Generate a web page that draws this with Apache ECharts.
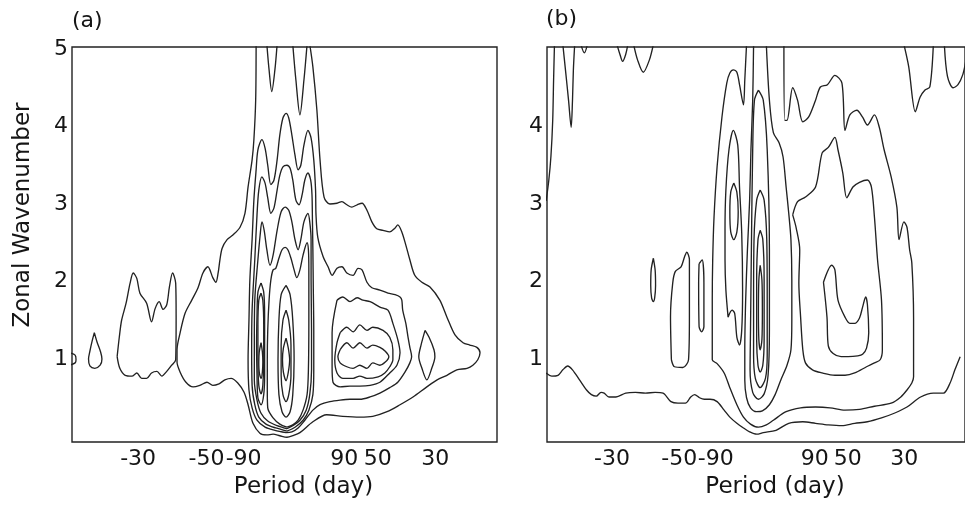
<!DOCTYPE html>
<html><head><meta charset="utf-8">
<script src="https://cdn.jsdelivr.net/npm/echarts@6/dist/echarts.min.js"></script>
<style>html,body{margin:0;padding:0;background:#fff}#c{width:965px;height:507px}</style>
</head><body><div id="c"></div>
<script>
// x: frequency (cycles per 1000 days, + eastward), y: zonal wavenumber
const tickPos = [-33.3, -18.0, -9.7, 12.8, 20.3, 33.2];
const tickPeriods = ['-30', '-50', '-90', '90', '50', '30'];
const yTicksA = [1, 2, 3, 4, 5];
const yTicksB = [1, 2, 3, 4];

// ---------- panel (a) contours ----------
const a_edge = [[-48.6,1.08],[-47.4,1.05],[-47.2,0.99],[-47.4,0.95],[-48.6,0.92]];
const a_drop = [[-43.1,1.34],[-42.5,1.22],[-41.7,1.09],[-41.4,1.00],[-41.8,0.92],[-43.0,0.88],[-44.1,0.91],[-44.4,1.00],[-44.1,1.10],[-43.6,1.23],[-43.1,1.34]];
const a_lobe = [[-38.0,1.03],[-37.5,1.29],[-37.0,1.50],[-36.0,1.72],[-35.1,1.98],[-34.4,2.11],[-33.6,2.04],[-32.9,1.85],[-31.4,1.72],[-30.3,1.48],[-29.5,1.65],[-28.6,1.74],[-27.7,1.64],[-26.9,1.70],[-26.3,1.93],[-25.6,2.11],[-24.9,1.98],[-24.8,1.55],[-24.9,0.99],[-25.8,0.92],[-26.9,0.84],[-28.0,0.78],[-29.1,0.84],[-30.3,0.82],[-31.4,0.75],[-32.5,0.75],[-33.6,0.82],[-34.7,0.78],[-36.2,0.79],[-37.4,0.88],[-38.0,1.03]];
const a_outer = [[-6.9,5.06],[-7.0,4.34],[-7.4,3.83],[-7.8,3.57],[-8.7,3.22],[-9.4,2.88],[-10.5,2.70],[-12.1,2.60],[-13.4,2.54],[-14.5,2.43],[-15.0,2.28],[-15.4,2.11],[-15.9,1.99],[-16.6,2.05],[-17.7,2.19],[-18.8,2.11],[-19.9,1.92],[-21.3,1.76],[-22.8,1.59],[-23.9,1.34],[-24.6,1.12],[-24.6,0.96],[-23.9,0.83],[-22.6,0.70],[-21.0,0.64],[-19.5,0.66],[-17.9,0.70],[-16.6,0.66],[-15.2,0.68],[-13.9,0.73],[-12.5,0.75],[-11.0,0.69],[-9.6,0.57],[-8.7,0.41],[-7.6,0.17],[-6.0,0.04],[-4.5,0.02],[-3.1,0.03],[-1.6,0.01],[0,-0.01],[1.3,0.01],[2.9,0.05],[5.8,0.19],[8.9,0.28],[12.5,0.26],[16.3,0.25],[19.2,0.26],[22.4,0.32],[25.3,0.41],[28.2,0.51],[31.3,0.64],[33.6,0.73],[35.8,0.79],[38.0,0.86],[40.3,0.88],[41.6,0.92],[42.7,0.99],[43.2,1.08],[42.5,1.15],[40.9,1.18],[39.4,1.21],[37.6,1.31],[35.8,1.54],[34.2,1.76],[32.0,1.93],[30.2,1.99],[28.6,2.08],[27.5,2.28],[26.6,2.47],[25.7,2.64],[24.8,2.73],[24.2,2.69],[23.0,2.64],[21.5,2.66],[20.1,2.68],[19.0,2.77],[17.9,2.92],[16.8,3.01],[15.7,2.99],[14.5,2.96],[13.4,2.99],[12.3,3.03],[11.2,3.01],[9.6,3.00],[8.3,3.09],[7.4,3.57],[6.7,4.21],[5.8,4.77],[5.1,5.06]];
const a_spindle = [[30.9,1.37],[31.8,1.28],[32.9,1.12],[33.1,1.03],[32.4,0.88],[31.3,0.73],[30.2,0.88],[29.5,1.03],[30.0,1.18],[30.9,1.37]];
const a_v1 = [[-4.5,5.06],[-4.0,4.73],[-3.4,4.45],[-2.7,4.73],[-2.2,5.06]];
const a_v2 = [[1.3,5.06],[2.0,4.60],[2.9,4.15],[3.8,4.60],[4.5,5.06]];
const a_s2 = [[-0.2,0.05],[-2.7,0.08],[-4.9,0.12],[-6.7,0.21],[-7.8,0.37],[-8.5,0.60],[-8.7,0.99],[-8.5,1.50],[-8.3,2.02],[-7.8,2.54],[-7.4,3.05],[-6.9,3.44],[-6.5,3.70],[-5.6,3.83],[-4.9,3.72],[-4.3,3.50],[-3.6,3.25],[-2.9,3.31],[-2.2,3.57],[-1.6,3.89],[-0.9,4.11],[-0.2,4.17],[0.4,4.11],[1.1,3.89],[1.8,3.63],[2.5,3.44],[3.1,3.50],[3.8,3.76],[4.7,3.95],[5.4,3.85],[6.0,3.57],[6.4,3.18],[6.5,2.86],[6.9,2.57],[8.1,2.32],[9.2,2.19],[10.1,2.08],[11.2,2.17],[12.3,2.19],[13.4,2.11],[14.8,2.08],[15.9,2.17],[16.8,2.15],[17.9,1.99],[19.0,1.92],[20.8,1.89],[22.6,1.85],[24.2,1.83],[25.3,1.80],[25.7,1.76],[25.9,1.63],[26.6,1.46],[27.1,1.28],[27.5,1.15],[27.9,1.03],[27.5,0.95],[26.4,0.83],[24.8,0.70],[23.0,0.63],[20.8,0.56],[18.6,0.51],[16.3,0.48],[14.1,0.48],[11.9,0.47],[9.6,0.45],[7.4,0.41],[5.8,0.34],[4.0,0.21],[2.5,0.11],[1.1,0.06],[-0.2,0.05]];
const a_s3 = [[0,0.07],[-2.5,0.11],[-4.7,0.16],[-6.3,0.25],[-7.2,0.41],[-7.8,0.66],[-7.9,1.12],[-7.8,1.63],[-7.2,2.28],[-6.7,2.86],[-6.3,3.18],[-5.6,3.35],[-4.9,3.27],[-4.3,3.08],[-3.6,2.88],[-2.9,2.95],[-2.2,3.18],[-1.6,3.37],[-0.9,3.48],[0,3.50],[0.7,3.46],[1.3,3.31],[2.0,3.05],[2.7,2.99],[3.4,3.12],[4.0,3.31],[4.7,3.40],[5.3,3.31],[5.6,3.12],[5.7,2.79],[5.8,2.41],[5.9,1.89],[6.0,1.37],[6.0,0.86],[5.8,0.54],[4.9,0.34],[3.6,0.21],[1.8,0.12],[0,0.07]];
const a_s4 = [[0,0.10],[-2.2,0.14],[-4.3,0.20],[-5.8,0.30],[-6.7,0.47],[-7.3,0.73],[-7.3,1.25],[-7.2,1.76],[-6.5,2.28],[-6.0,2.60],[-5.6,2.77],[-5.1,2.66],[-4.5,2.41],[-3.8,2.21],[-3.1,2.34],[-2.2,2.66],[-1.3,2.90],[-0.4,2.96],[0.4,2.92],[1.1,2.77],[1.8,2.54],[2.5,2.41],[3.1,2.54],[3.8,2.77],[4.7,2.88],[5.1,2.77],[5.4,2.54],[5.4,2.02],[5.5,1.37],[5.5,0.86],[5.1,0.54],[4.3,0.34],[2.9,0.21],[1.3,0.14],[0,0.10]];
const a_s5 = [[0,0.12],[-1.6,0.16],[-3.1,0.24],[-4.3,0.37],[-4.4,0.60],[-4.4,0.99],[-4.3,1.37],[-4.0,1.76],[-3.6,2.02],[-3.1,2.15],[-2.5,2.17],[-1.8,2.30],[-1.1,2.41],[-0.4,2.44],[0.2,2.41],[0.9,2.30],[1.6,2.15],[2.2,2.05],[2.9,2.15],[3.6,2.34],[4.5,2.50],[4.8,2.41],[4.9,2.15],[4.9,1.50],[4.8,0.86],[4.5,0.54],[3.6,0.34],[2.5,0.21],[1.3,0.15],[0,0.12]];
const a_lc1 = [[-5.8,1.98],[-5.2,1.86],[-5.0,1.57],[-5.0,1.18],[-5.0,0.79],[-5.2,0.54],[-5.8,0.41],[-6.5,0.50],[-6.7,0.79],[-6.8,1.18],[-6.7,1.57],[-6.5,1.86],[-5.8,1.98]];
const a_lc2 = [[-5.8,1.85],[-5.4,1.76],[-5.2,1.44],[-5.2,0.99],[-5.4,0.66],[-5.8,0.55],[-6.3,0.66],[-6.5,0.99],[-6.5,1.44],[-6.3,1.76],[-5.8,1.85]];
const a_lc3 = [[-5.8,1.21],[-5.5,1.09],[-5.4,0.96],[-5.5,0.83],[-5.8,0.75],[-6.2,0.83],[-6.3,0.96],[-6.2,1.09],[-5.8,1.21]];
const a_mc1 = [[-0.2,1.95],[0.7,1.83],[1.3,1.50],[1.6,0.99],[1.3,0.54],[0.7,0.32],[-0.2,0.25],[-1.1,0.32],[-1.8,0.54],[-2.0,0.99],[-1.8,1.50],[-1.3,1.83],[-0.2,1.95]];
const a_mc2 = [[-0.2,1.63],[0.4,1.50],[0.9,1.18],[0.9,0.79],[0.4,0.54],[-0.2,0.45],[-0.9,0.54],[-1.3,0.79],[-1.3,1.18],[-0.9,1.50],[-0.2,1.63]];
const a_mc3 = [[-0.2,1.27],[0.3,1.14],[0.6,0.99],[0.3,0.83],[-0.2,0.72],[-0.8,0.83],[-1.0,0.99],[-0.8,1.14],[-0.2,1.27]];
const a_c3 = [[11.2,1.76],[12.5,1.80],[14.1,1.74],[15.7,1.79],[17.0,1.76],[18.6,1.74],[20.8,1.67],[22.6,1.63],[23.7,1.46],[24.8,1.25],[25.3,1.08],[24.6,0.92],[23.0,0.82],[20.8,0.70],[18.6,0.66],[16.3,0.65],[14.1,0.65],[11.9,0.64],[10.3,0.70],[10.1,0.90],[10.1,1.34],[11.2,1.76]];
const a_c4 = [[11.9,1.34],[13.4,1.41],[14.8,1.35],[16.3,1.44],[17.9,1.37],[19.2,1.41],[21.5,1.37],[23.0,1.28],[23.7,1.12],[23.7,0.99],[23.0,0.90],[21.9,0.82],[20.4,0.77],[17.9,0.75],[16.3,0.78],[14.8,0.75],[12.5,0.75],[11.2,0.82],[10.7,0.99],[11.2,1.21],[11.9,1.34]];
const a_c5 = [[11.9,1.12],[13.4,1.21],[14.8,1.14],[16.3,1.21],[17.9,1.14],[19.2,1.18],[20.8,1.15],[22.0,1.10],[22.8,1.03],[22.0,0.96],[20.8,0.92],[19.2,0.95],[17.9,0.88],[16.3,0.92],[14.8,0.88],[13.4,0.90],[11.9,0.95],[11.4,1.03],[11.9,1.12]];

// ---------- panel (b) contours ----------
const b_edge = [[-48.3,3.04],[-47.7,3.30],[-47.2,3.62],[-46.8,4.08],[-46.6,4.60],[-46.4,5.06]];
const b_v1 = [[-44.5,5.06],[-43.9,4.73],[-43.2,4.34],[-42.6,3.99],[-42.3,4.34],[-42.1,4.73],[-41.8,5.06]];
const b_v2 = [[-40.4,5.06],[-39.6,4.95],[-38.9,5.06]];
const b_v3 = [[-32.2,5.06],[-31.5,4.93],[-30.9,4.84],[-30.2,4.93],[-29.7,5.06]];
const b_v4 = [[-28.4,5.06],[-27.5,4.86],[-26.2,4.70],[-24.8,4.86],[-23.9,5.06]];
const b_bottom = [[-48.3,0.82],[-47.0,0.78],[-45.6,0.79],[-44.5,0.86],[-43.4,0.91],[-42.3,0.86],[-40.7,0.73],[-39.1,0.60],[-38.0,0.54],[-36.9,0.52],[-35.8,0.57],[-35.1,0.56],[-34.0,0.51],[-32.4,0.51],[-30.2,0.56],[-28.0,0.57],[-25.7,0.56],[-23.5,0.57],[-21.7,0.56],[-19.9,0.45],[-18.3,0.43],[-16.6,0.43],[-15.4,0.51],[-14.5,0.54],[-13.4,0.50],[-12.3,0.48],[-11.0,0.48],[-9.4,0.45],[-7.8,0.34],[-6.5,0.25],[-4.9,0.17],[-3.4,0.11],[-2.0,0.06],[-0.4,0.03],[1.1,0.05],[4.0,0.08],[6.9,0.17],[10.1,0.19],[13.0,0.17],[15.9,0.15],[19.0,0.14],[21.9,0.17],[24.8,0.19],[28.0,0.24],[30.9,0.30],[33.8,0.38],[36.9,0.51],[39.8,0.56],[42.1,0.56],[43.6,0.69],[44.7,0.86],[45.9,1.03]];
const b_oval1 = [[-23.9,2.30],[-23.5,2.15],[-23.4,1.95],[-23.6,1.79],[-23.9,1.74],[-24.3,1.79],[-24.5,1.95],[-24.4,2.15],[-23.9,2.30]];
const b_loop = [[-19.8,0.99],[-20.0,1.55],[-19.5,1.98],[-18.9,2.13],[-17.6,2.19],[-16.8,2.32],[-16.3,2.38],[-15.7,2.28],[-15.7,1.55],[-15.9,0.99],[-17.2,0.89],[-19.1,0.90],[-19.8,0.99]];
const b_oval2 = [[-13.5,2.23],[-12.8,2.28],[-12.4,1.98],[-12.4,1.42],[-12.9,1.35],[-13.5,1.42],[-13.6,1.98],[-13.5,2.23]];
const b_arch = [[-2.7,5.06],[-3.1,4.60],[-3.4,4.28],[-4.3,4.54],[-4.9,4.70],[-5.7,4.73],[-6.5,4.69],[-7.2,4.56],[-8.3,4.12],[-9.4,3.48],[-10.1,2.83],[-10.4,2.28],[-10.5,1.76],[-10.5,0.99],[-9.4,0.94],[-7.8,0.82],[-6.5,0.63],[-4.9,0.41],[-3.4,0.25],[-1.8,0.16],[0,0.12],[1.8,0.15],[3.4,0.21],[6.3,0.32],[9.6,0.37],[13.0,0.38],[16.3,0.37],[19.7,0.34],[23.0,0.35],[26.4,0.39],[30.2,0.43],[32.4,0.51],[33.8,0.60],[34.9,0.69],[35.3,0.77],[35.3,1.54],[34.9,2.24],[34.4,2.41],[33.8,2.70],[33.1,2.77],[32.0,2.54],[31.5,2.96],[30.2,3.35],[28.6,3.70],[27.5,3.99],[26.4,4.15],[24.8,4.02],[23.7,4.12],[22.4,4.21],[20.8,4.15],[19.7,3.95],[19.0,4.56],[17.4,4.66],[15.7,4.54],[14.1,4.51],[13.0,4.34],[11.4,4.12],[10.1,4.06],[8.9,4.34],[7.8,4.50],[6.5,4.08],[6.0,4.08],[5.8,5.06]];
const b_arch2 = [[-6.9,1.54],[-7.4,1.89],[-7.6,2.28],[-7.6,2.67],[-7.4,3.18],[-6.7,3.70],[-5.7,3.95],[-4.7,3.76],[-4.3,3.22],[-3.8,2.63],[-3.6,1.89],[-3.8,1.37],[-4.3,1.18],[-4.9,1.28],[-5.4,1.59],[-6.0,1.63],[-6.9,1.54]];
const b_oval3 = [[-5.6,3.27],[-4.9,3.15],[-4.6,2.90],[-4.9,2.64],[-5.6,2.54],[-6.3,2.64],[-6.5,2.90],[-6.3,3.15],[-5.6,3.27]];
const b_m0 = [[0,4.47],[-0.9,4.34],[-1.3,3.70],[-1.6,2.41],[-1.8,1.37],[-1.9,0.86],[-1.3,0.57],[0,0.48],[1.3,0.55],[2.2,0.79],[2.5,1.37],[2.5,2.41],[2.0,3.70],[1.1,4.34],[0,4.47]];
const b_m1 = [[0.4,3.18],[1.3,3.05],[1.9,2.54],[2.0,1.76],[2.0,1.05],[1.6,0.75],[0.4,0.63],[-0.7,0.75],[-1.1,1.05],[-1.1,1.76],[-1.0,2.54],[-0.4,3.05],[0.4,3.18]];
const b_m2 = [[0.4,2.66],[1.0,2.54],[1.3,2.02],[1.3,1.25],[1.0,0.92],[0.4,0.83],[-0.1,0.92],[-0.4,1.25],[-0.4,2.02],[-0.1,2.54],[0.4,2.66]];
const b_m3 = [[0.4,2.21],[0.8,2.02],[0.9,1.63],[0.8,1.25],[0.4,1.12],[0.1,1.25],[0,1.63],[0.1,2.02],[0.4,2.21]];
const b_p3 = [[7.8,2.86],[8.9,3.03],[10.7,3.09],[13.0,3.22],[14.5,3.66],[15.9,3.73],[17.4,3.86],[18.1,3.70],[19.2,3.40],[20.1,3.08],[21.5,3.22],[23.0,3.28],[24.8,3.31],[25.7,3.22],[26.4,2.83],[27.1,2.28],[28.0,1.76],[28.2,1.12],[27.7,0.99],[26.4,0.95],[24.6,0.90],[21.9,0.82],[19.7,0.79],[17.4,0.79],[14.5,0.82],[12.3,0.86],[10.7,0.95],[10.1,1.12],[9.6,1.54],[9.2,1.98],[9.4,2.41],[8.6,2.69],[7.8,2.86]];
const b_p4 = [[1.8,5.06],[2.5,4.34],[3.4,3.92],[4.7,3.79],[5.6,3.61],[6.3,3.22],[6.9,2.88],[7.4,2.54],[7.6,2.02],[7.6,1.50],[7.4,1.12],[6.5,0.92],[5.1,0.73],[3.8,0.54],[2.5,0.41],[0.9,0.33],[-0.4,0.32],[-1.8,0.37],[-2.7,0.50],[-3.1,0.73],[-3.1,1.12],[-2.9,1.76],[-2.5,2.41],[-2.0,3.05],[-1.7,3.70],[-1.3,4.34],[-1.1,5.06]];
const b_c4 = [[14.8,1.99],[16.7,2.21],[17.4,2.15],[18.1,1.76],[19.7,1.54],[20.8,1.46],[21.9,1.46],[23.0,1.53],[23.7,1.67],[24.4,1.80],[24.8,1.70],[25.1,1.34],[24.6,1.14],[23.7,1.06],[22.6,1.04],[20.4,1.03],[18.8,1.03],[17.0,1.07],[15.9,1.17],[15.6,1.54],[14.8,1.99]];
const b_tr1 = [[33.1,5.06],[34.2,4.77],[35.7,4.19],[36.8,4.38],[37.9,4.47],[39.0,4.51],[39.8,5.06]];
const b_tr2 = [[42.3,5.06],[43.0,4.65],[44.3,4.50],[45.4,4.54],[46.5,4.67],[47.2,4.85]];

const contoursA = [a_edge,a_drop,a_lobe,a_outer,a_spindle,a_v1,a_v2,a_s2,a_s3,a_s4,a_s5,a_lc1,a_lc2,a_lc3,a_mc1,a_mc2,a_mc3,a_c3,a_c4,a_c5];
const contoursB = [b_edge,b_v1,b_v2,b_v3,b_v4,b_bottom,b_oval1,b_loop,b_oval2,b_arch,b_arch2,b_oval3,b_m0,b_m1,b_m2,b_m3,b_p3,b_p4,b_c4,b_tr1,b_tr2];

const FONT = 'DejaVu Sans';
const INK = '#151515';
const X_MIN = -48.1, X_MAX = 47.0, Y_MIN = -0.071, Y_MAX = 5.026;

function periodLabel(v) {
  let best = 0, bd = Infinity;
  tickPos.forEach((p, i) => { const d = Math.abs(p - v); if (d < bd) { bd = d; best = i; } });
  return tickPeriods[best];
}
function xAxisFor(i) {
  return {
    gridIndex: i, type: 'value', min: X_MIN, max: X_MAX,
    axisLine: {show: false}, axisTick: {show: false}, splitLine: {show: false},
    axisLabel: {customValues: tickPos, formatter: periodLabel, fontFamily: FONT, fontSize: 22, color: INK, margin: 6},
    name: 'Period (day)', nameLocation: 'middle', nameGap: 34,
    nameTextStyle: {fontFamily: FONT, fontSize: 23, color: INK, padding: [0, 0, 0, 38]}
  };
}
function yAxisFor(i, ticks, withName) {
  const ax = {
    gridIndex: i, type: 'value', min: Y_MIN, max: Y_MAX,
    axisLine: {show: false}, axisTick: {show: false}, splitLine: {show: false},
    axisLabel: {customValues: ticks, formatter: v => String(v), fontFamily: FONT, fontSize: 22, color: INK, margin: 4}
  };
  if (withName) {
    Object.assign(ax, {name: 'Zonal Wavenumber', nameLocation: 'middle', nameRotate: 90, nameGap: 37,
      nameTextStyle: {fontFamily: FONT, fontSize: 23, color: INK, padding: [0, 0, 0, 59]}});
  }
  return ax;
}
function mk(data, gi) {
  return {type: 'line', data: data, xAxisIndex: gi, yAxisIndex: gi, showSymbol: false, symbol: 'none',
    smooth: 0.3, clip: true, silent: true, lineStyle: {color: '#222', width: 1.35}};
}
const series = contoursA.map(d => mk(d, 0)).concat(contoursB.map(d => mk(d, 1)));

const chart = echarts.init(document.getElementById('c'), null, {renderer: 'canvas'});
chart.setOption({
  animation: false,
  backgroundColor: '#fff',
  title: [
    {text: '(a)', left: 72, top: 10, padding: 0, textStyle: {fontFamily: FONT, fontSize: 22, fontWeight: 'normal', color: INK}},
    {text: '(b)', left: 546, top: 8, padding: 0, textStyle: {fontFamily: FONT, fontSize: 22, fontWeight: 'normal', color: INK}}
  ],
  grid: [
    {left: 72, top: 47, width: 425, height: 395, show: true, borderColor: '#222', borderWidth: 1.4, backgroundColor: 'transparent'},
    {left: 547, top: 47, width: 425, height: 395, show: true, borderColor: '#222', borderWidth: 1.4, backgroundColor: 'transparent'}
  ],
  xAxis: [xAxisFor(0), xAxisFor(1)],
  yAxis: [yAxisFor(0, yTicksA, true), yAxisFor(1, yTicksB, false)],
  series: series
});
</script>
</body></html>
